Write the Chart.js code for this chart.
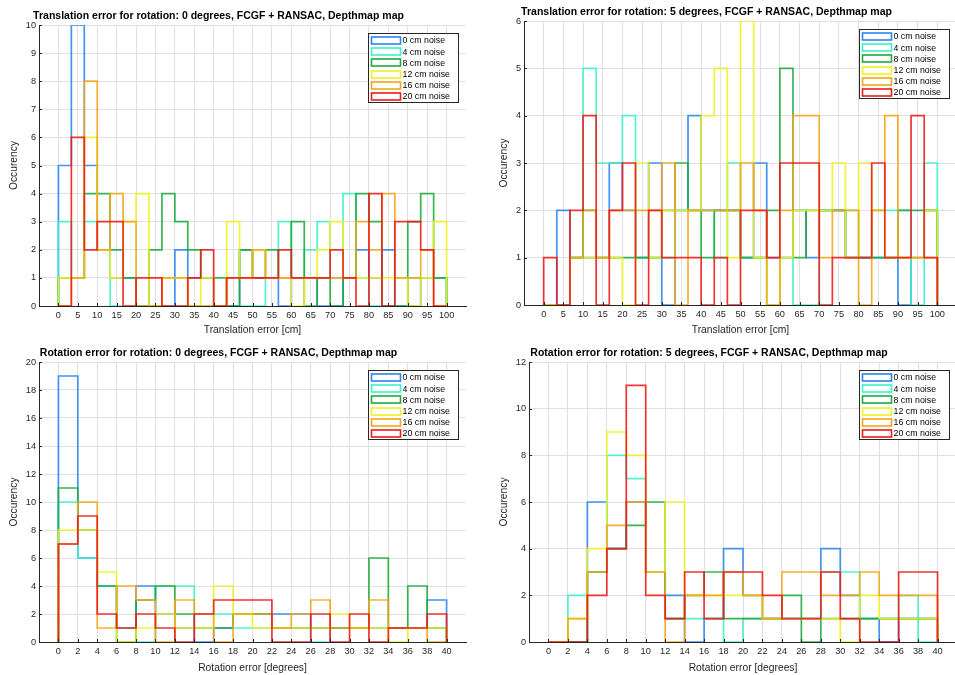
<!DOCTYPE html>
<html>
<head>
<meta charset="utf-8">
<script src="https://cdn.jsdelivr.net/npm/chart.js@4.4.0/dist/chart.umd.min.js"></script>
<style>
  html, body { margin: 0; padding: 0; background: #fff; overflow: hidden; }
  body { width: 955px; height: 675px; position: relative; }
  .panel { position: absolute; }
</style>
</head>
<body>
<div class="panel" style="left:0;top:0"><canvas id="c1" width="478" height="337"></canvas></div>
<div class="panel" style="left:478px;top:0"><canvas id="c2" width="490" height="337"></canvas></div>
<div class="panel" style="left:0;top:337px"><canvas id="c3" width="478" height="338"></canvas></div>
<div class="panel" style="left:478px;top:337px"><canvas id="c4" width="490" height="338"></canvas></div>
<script>
const noiseLabels = ["0 cm noise", "4 cm noise", "8 cm noise", "12 cm noise", "16 cm noise", "20 cm noise"];
const noiseColors = ["#2a84f4", "#3cf0c8", "#1eaa3c", "#f0f01e", "#f5a514", "#f01818"];

const transTicks = [0, 5, 10, 15, 20, 25, 30, 35, 40, 45, 50, 55, 60, 65, 70, 75, 80, 85, 90, 95, 100];
const rotTicks = [0, 2, 4, 6, 8, 10, 12, 14, 16, 18, 20, 22, 24, 26, 28, 30, 32, 34, 36, 38, 40];

// histogram counts, one row per noise level (0, 4, 8, 12, 16, 20 cm)
// translation error, 30 bins over 0..100 cm, rotation 0 deg
const transRot0 = [
  [5, 10, 5, 2, 1, 1, 0, 0, 0, 2, 1, 1, 0, 0, 2, 1, 1, 0, 1, 1, 0, 0, 1, 2, 1, 2, 0, 0, 1, 1],
  [3, 1, 3, 2, 0, 0, 0, 0, 0, 0, 0, 0, 0, 0, 0, 0, 1, 3, 1, 2, 3, 1, 4, 1, 0, 0, 1, 1, 1, 1],
  [1, 1, 4, 4, 2, 1, 0, 2, 4, 3, 2, 1, 1, 0, 2, 1, 2, 1, 3, 0, 1, 0, 1, 4, 3, 0, 0, 3, 4, 1],
  [1, 1, 6, 2, 1, 3, 4, 0, 1, 1, 0, 1, 0, 3, 1, 2, 1, 1, 0, 1, 2, 3, 1, 1, 1, 1, 1, 0, 1, 3],
  [0, 1, 8, 2, 4, 3, 0, 0, 1, 1, 0, 0, 0, 1, 1, 2, 1, 1, 1, 1, 1, 1, 1, 3, 2, 4, 1, 1, 2, 0],
  [0, 6, 2, 3, 3, 0, 1, 1, 0, 0, 1, 2, 0, 1, 1, 1, 1, 2, 1, 1, 1, 2, 1, 0, 4, 0, 3, 3, 2, 0]
];
// translation error, rotation 5 deg
const transRot5 = [
  [0, 2, 1, 1, 1, 3, 2, 1, 3, 0, 2, 4, 2, 2, 2, 1, 3, 1, 1, 2, 1, 2, 2, 1, 1, 1, 1, 0, 1, 2],
  [0, 0, 1, 5, 3, 3, 4, 1, 1, 1, 2, 2, 2, 1, 3, 1, 1, 0, 1, 0, 0, 2, 2, 2, 1, 2, 2, 2, 0, 3],
  [0, 0, 1, 2, 1, 1, 1, 1, 1, 2, 3, 2, 1, 2, 2, 1, 1, 2, 5, 1, 2, 2, 2, 1, 1, 1, 1, 2, 2, 2],
  [0, 0, 1, 1, 1, 1, 0, 3, 1, 2, 2, 2, 4, 5, 1, 6, 1, 0, 1, 2, 2, 2, 3, 1, 3, 2, 1, 1, 1, 2],
  [0, 0, 1, 2, 1, 2, 2, 2, 2, 3, 0, 2, 2, 2, 2, 3, 2, 0, 2, 4, 4, 1, 2, 2, 0, 2, 4, 1, 1, 1],
  [1, 0, 2, 4, 0, 2, 3, 0, 2, 1, 1, 1, 0, 1, 0, 2, 2, 1, 3, 3, 3, 0, 1, 1, 1, 3, 1, 1, 4, 1]
];
// rotation error, 20 bins over 0..40 deg, rotation 0 deg
const rotRot0 = [
  [19, 6, 4, 1, 4, 2, 1, 0, 1, 2, 2, 2, 2, 1, 1, 1, 1, 1, 1, 3],
  [10, 6, 4, 1, 0, 4, 4, 2, 2, 1, 1, 1, 1, 0, 1, 1, 1, 1, 1, 1],
  [11, 8, 4, 0, 3, 4, 2, 1, 1, 2, 2, 1, 1, 1, 1, 1, 6, 1, 4, 1],
  [8, 8, 5, 0, 1, 2, 1, 1, 4, 2, 1, 1, 1, 1, 2, 1, 1, 0, 1, 1],
  [7, 10, 1, 4, 3, 0, 3, 2, 0, 2, 2, 1, 2, 3, 1, 1, 3, 1, 1, 0],
  [7, 9, 2, 1, 2, 1, 0, 2, 3, 3, 3, 0, 0, 2, 0, 2, 0, 1, 1, 2]
];
// rotation error, rotation 5 deg
const rotRot5 = [
  [0, 0, 6, 4, 6, 3, 2, 0, 1, 4, 2, 1, 1, 1, 4, 2, 1, 0, 1, 1],
  [0, 2, 3, 8, 7, 3, 1, 1, 1, 0, 1, 1, 1, 1, 3, 3, 1, 1, 2, 0],
  [0, 0, 3, 4, 5, 6, 1, 2, 3, 1, 1, 1, 2, 0, 1, 1, 1, 1, 1, 1],
  [0, 1, 4, 9, 8, 3, 6, 2, 2, 2, 2, 1, 1, 1, 1, 0, 2, 1, 1, 1],
  [0, 1, 3, 5, 6, 3, 0, 2, 2, 3, 2, 1, 3, 3, 2, 2, 3, 2, 2, 2],
  [0, 0, 2, 4, 11, 2, 1, 3, 1, 3, 3, 2, 1, 1, 3, 1, 0, 0, 3, 3]
];

const FONT = '"Liberation Sans", Arial, Helvetica, sans-serif';
const axisColor = "#262626";
const gridColor = "#e0e0e0";

// turn bin counts into a stairs outline: up at each edge, down to 0 at the end
function stairs(counts, lo, hi) {
  const w = (hi - lo) / counts.length;
  const pts = [{ x: lo, y: 0 }];
  counts.forEach((c, i) => pts.push({ x: lo + i * w, y: c }));
  pts.push({ x: hi, y: 0 });
  return pts;
}

function withAlpha(hex, a) {
  const n = parseInt(hex.slice(1), 16);
  return `rgba(${n >> 16},${(n >> 8) & 255},${n & 255},${a})`;
}

// inward ticks, title and boxed legend drawn over the plot
const matlabLook = {
  id: "matlabLook",
  afterDraw(chart, args, opts) {
    const { ctx, chartArea: a, scales: { x, y } } = chart;
    ctx.save();
    ctx.strokeStyle = axisColor;
    ctx.lineWidth = 1;
    ctx.beginPath();
    x.ticks.forEach(t => {
      const px = Math.round(x.getPixelForValue(t.value)) + 0.5;
      ctx.moveTo(px, a.bottom);
      ctx.lineTo(px, a.bottom - 3);
    });
    y.ticks.forEach(t => {
      const py = Math.round(y.getPixelForValue(t.value)) + 0.5;
      ctx.moveTo(a.left, py);
      ctx.lineTo(a.left + 3, py);
    });
    ctx.stroke();

    ctx.fillStyle = "#000";
    ctx.font = `bold 10.5px ${FONT}`;
    ctx.textAlign = "center";
    ctx.textBaseline = "middle";
    ctx.fillText(opts.text, (a.left + a.right) / 2 - 34, a.top - 8.5);

    // legend box in the top right corner
    const bw = 90, bh = 69;
    const bx = Math.round(a.right - 8 - bw) + 0.5;
    const by = Math.round(a.top + 8) + 0.5;
    ctx.fillStyle = "#fff";
    ctx.fillRect(bx, by, bw, bh);
    ctx.strokeStyle = axisColor;
    ctx.lineWidth = 1;
    ctx.strokeRect(bx, by, bw, bh);
    ctx.font = `8.8px ${FONT}`;
    ctx.textAlign = "left";
    noiseLabels.forEach((lab, i) => {
      const ry = by + 7 + i * 11.2;
      ctx.strokeStyle = noiseColors[i];
      ctx.lineWidth = 1.6;
      ctx.strokeRect(bx + 3, Math.round(ry - 3.5), 29, 7);
      ctx.fillStyle = "#000";
      ctx.fillText(lab, bx + 34, ry + 0.5);
    });
    ctx.restore();
  }
};

function makePanel(cfg) {
  const datasets = cfg.counts.map((row, i) => ({
    label: noiseLabels[i],
    data: stairs(row, cfg.lo, cfg.hi),
    borderColor: withAlpha(noiseColors[i], 0.88),
    borderWidth: 1.7,
    stepped: true,
    fill: false,
    pointRadius: 0,
    order: noiseLabels.length - i
  }));
  return new Chart(document.getElementById(cfg.id), {
    type: "line",
    data: { datasets },
    plugins: [matlabLook],
    options: {
      responsive: false,
      animation: false,
      events: [],
      parsing: false,
      layout: { padding: cfg.pad },
      plugins: {
        legend: { display: false },
        tooltip: { enabled: false },
        matlabLook: { text: cfg.title }
      },
      scales: {
        x: {
          type: "linear",
          min: cfg.xMin,
          max: cfg.xMax,
          afterBuildTicks: s => { s.ticks = cfg.xTicks.map(v => ({ value: v })); },
          afterFit: s => { s.height = cfg.xAxisH; },
          grid: { color: gridColor, drawTicks: false },
          border: { color: axisColor, width: 1 },
          ticks: { font: { family: FONT, size: 9.2 }, color: axisColor, padding: 4, maxRotation: 0, autoSkip: false },
          title: { display: true, text: cfg.xTitle, font: { family: FONT, size: 10.3 }, color: axisColor, padding: { top: 0, bottom: 1 } }
        },
        y: {
          min: 0,
          max: cfg.yMax,
          afterFit: s => { s.width = cfg.yAxisW; },
          grid: { color: gridColor, drawTicks: false },
          border: { color: axisColor, width: 1 },
          ticks: { stepSize: cfg.yStep, font: { family: FONT, size: 9.2 }, color: axisColor, padding: 3 },
          title: { display: true, text: "Occurency", font: { family: FONT, size: 10.3 }, color: axisColor, padding: { top: cfg.yTitlePad, bottom: 0 } }
        }
      }
    }
  });
}

makePanel({
  id: "c1", counts: transRot0, lo: 0, hi: 100, xMin: -5, xMax: 105, xTicks: transTicks,
  yMax: 10, yStep: 1, title: "Translation error for rotation: 0 degrees, FCGF + RANSAC, Depthmap map",
  xTitle: "Translation error [cm]", pad: { top: 25, right: 12, bottom: 0, left: 0 },
  yAxisW: 39, yTitlePad: 8, xAxisH: 31
});
makePanel({
  id: "c2", counts: transRot5, lo: 0, hi: 100, xMin: -5, xMax: 105, xTicks: transTicks,
  yMax: 6, yStep: 1, title: "Translation error for rotation: 5 degrees, FCGF + RANSAC, Depthmap map",
  xTitle: "Translation error [cm]", pad: { top: 21, right: 11, bottom: 0, left: 0 },
  yAxisW: 46, yTitlePad: 20, xAxisH: 32
});
makePanel({
  id: "c3", counts: rotRot0, lo: 0, hi: 40, xMin: -2, xMax: 42, xTicks: rotTicks,
  yMax: 20, yStep: 2, title: "Rotation error for rotation: 0 degrees, FCGF + RANSAC, Depthmap map",
  xTitle: "Rotation error [degrees]", pad: { top: 25, right: 12, bottom: 0, left: 0 },
  yAxisW: 39, yTitlePad: 8, xAxisH: 33
});
makePanel({
  id: "c4", counts: rotRot5, lo: 0, hi: 40, xMin: -2, xMax: 42, xTicks: rotTicks,
  yMax: 12, yStep: 2, title: "Rotation error for rotation: 5 degrees, FCGF + RANSAC, Depthmap map",
  xTitle: "Rotation error [degrees]", pad: { top: 25, right: 11, bottom: 0, left: 0 },
  yAxisW: 51, yTitlePad: 20, xAxisH: 33
});
</script>
</body>
</html>
